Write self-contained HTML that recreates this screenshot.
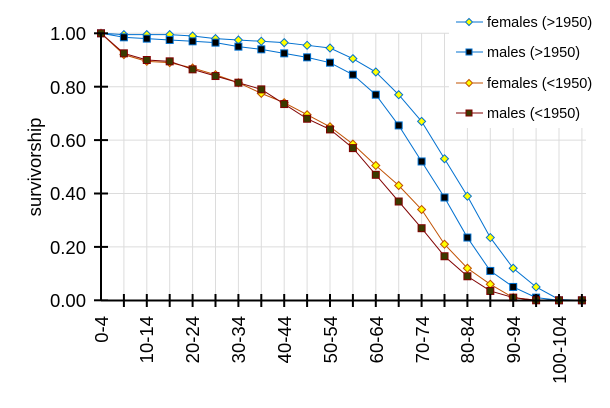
<!DOCTYPE html>
<html><head><meta charset="utf-8"><style>
html,body{margin:0;padding:0;background:#fff}
svg{display:block;font-family:"Liberation Sans",Arial,sans-serif}
</style></head><body>
<svg id="s" width="610" height="408" xmlns="http://www.w3.org/2000/svg">
<g id="grid" stroke="#dcdcdc" stroke-width="1"></g>
<rect x="449" y="0" width="161" height="128" fill="#fff"/>
<g id="series"></g>
<line x1="101" y1="33" x2="101" y2="301" stroke="#000" stroke-width="2"/>
<line x1="101" y1="300.5" x2="586" y2="300.5" stroke="#000" stroke-width="2"/>
<g id="ticks" stroke="#000" stroke-width="2"></g>
<g font-size="18.5" text-anchor="end" fill="#000">
<text x="86" y="40">1.00</text>
<text x="86" y="94">0.80</text>
<text x="86" y="147">0.60</text>
<text x="86" y="200">0.40</text>
<text x="86" y="254">0.20</text>
<text x="86" y="307">0.00</text>
</g>
<text transform="translate(41,167) rotate(-90)" font-size="18.5" text-anchor="middle">survivorship</text>
<g font-size="18.5" text-anchor="end">
<text transform="translate(108,316) rotate(-90)">0-4</text>
<text transform="translate(153,316) rotate(-90)">10-14</text>
<text transform="translate(199,316) rotate(-90)">20-24</text>
<text transform="translate(245,316) rotate(-90)">30-34</text>
<text transform="translate(291,316) rotate(-90)">40-44</text>
<text transform="translate(337,316) rotate(-90)">50-54</text>
<text transform="translate(383,316) rotate(-90)">60-64</text>
<text transform="translate(429,316) rotate(-90)">70-74</text>
<text transform="translate(474,316) rotate(-90)">80-84</text>
<text transform="translate(520,316) rotate(-90)">90-94</text>
<text transform="translate(566,316) rotate(-90)">100-104</text>
</g>
<g id="legend"></g>
<g font-size="14.5">
<text x="487" y="27">females (&gt;1950)</text>
<text x="487" y="57">males (&gt;1950)</text>
<text x="487" y="88">females (&lt;1950)</text>
<text x="487" y="118">males (&lt;1950)</text>
</g>
</svg>
<script>
const X=i=>101+i*22.9, Y=v=>300.3-v*267;
const NS="http://www.w3.org/2000/svg";
function el(p,t,a){const e=document.createElementNS(NS,t);for(const k in a)e.setAttribute(k,a[k]);p.appendChild(e);return e;}
const g=document.getElementById('grid');
for(let i=1;i<22;i++)el(g,'line',{x1:X(i),y1:33,x2:X(i),y2:300});
for(let k=1;k<=5;k++)el(g,'line',{x1:101,y1:Y(k*0.2),x2:586,y2:Y(k*0.2)});
const t=document.getElementById('ticks');
for(let i=1;i<22;i++)el(t,'line',{x1:X(i),y1:294,x2:X(i),y2:307});
for(let k=0;k<=5;k++)el(t,'line',{x1:94,y1:Y(k*0.2),x2:108,y2:Y(k*0.2)});
const S=[
{d:[1,.995,.995,.995,.99,.98,.975,.97,.965,.955,.945,.905,.855,.77,.67,.53,.39,.235,.12,.05,.003,0],c:'#0070d0',f:'#ffff00',m:'d'},
{d:[1,.985,.98,.975,.97,.965,.95,.94,.925,.91,.89,.845,.77,.655,.52,.385,.235,.11,.05,.01,0,0],c:'#0070d0',f:'#000',m:'s'},
{d:[1,.92,.895,.89,.87,.845,.815,.775,.74,.695,.65,.585,.505,.43,.34,.21,.12,.06,.01,0,0,0],c:'#c05000',f:'#ffff00',m:'d'},
{d:[1,.925,.9,.895,.865,.84,.815,.79,.735,.68,.64,.57,.47,.37,.27,.165,.09,.035,.01,0,0,0],c:'#800000',f:'#3a3a00',m:'s'}];
const sg=document.getElementById('series'),lg=document.getElementById('legend');
function mk(p,x,y,s,r){if(s.m=='d')el(p,'polygon',{points:`${x},${y-r} ${x+r},${y} ${x},${y+r} ${x-r},${y}`,fill:s.f,stroke:s.c,'stroke-width':1});
else el(p,'rect',{x:x-r+0.5,y:y-r+0.5,width:2*r-1,height:2*r-1,fill:s.f,stroke:s.c,'stroke-width':1});}
S.forEach((s,j)=>{el(sg,'polyline',{points:s.d.map((v,i)=>X(i)+','+Y(v)).join(' '),fill:'none',stroke:s.c,'stroke-width':1});
s.d.forEach((v,i)=>mk(sg,X(i),Y(v),s,4));
const ly=[22,52,83,113][j];el(lg,'line',{x1:456,y1:ly,x2:483,y2:ly,stroke:s.c,'stroke-width':1});mk(lg,469,ly,s,3.5);});
</script>
</body></html>
